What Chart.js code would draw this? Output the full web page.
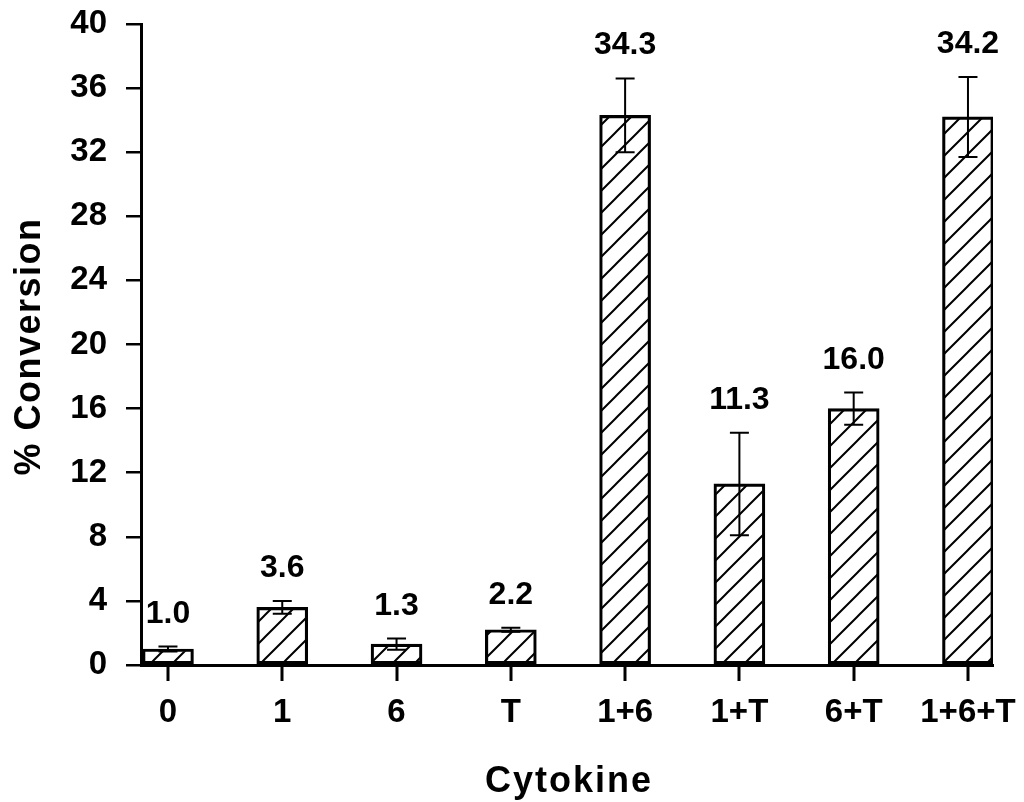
<!DOCTYPE html>
<html lang="en">
<head>
<meta charset="UTF-8">
<title>% Conversion by Cytokine</title>
<script src="https://cdn.jsdelivr.net/npm/chart.js"></script>
<style>
  html, body { margin: 0; padding: 0; background: #fff; }
  #wrap { width: 1024px; height: 802px; position: relative; }
</style>
</head>
<body>
<div id="wrap"><canvas id="cytokineChart"></canvas></div>
<script>
// Cytokine treatments, mean % conversion and error half-widths
const categories = ['0', '1', '6', 'T', '1+6', '1+T', '6+T', '1+6+T'];
const conversion = [1.0, 3.6, 1.3, 2.2, 34.3, 11.3, 16.0, 34.2];
const errorBars = [0.15, 0.4, 0.35, 0.12, 2.3, 3.2, 1.0, 2.5];
const yTicks = [0, 4, 8, 12, 16, 20, 24, 28, 32, 36, 40];

const FONT = '"Liberation Sans", Arial, Helvetica, sans-serif';
const X_MIN = -0.236, X_MAX = 7.219;

const canvas = document.getElementById('cytokineChart');

// diagonal "/" hatching used to fill the bars
function hatchPattern(ctx) {
  const s = 22;
  const tile = document.createElement('canvas');
  tile.width = s; tile.height = s;
  const g = tile.getContext('2d');
  g.strokeStyle = '#000';
  g.lineWidth = 2;
  g.beginPath();
  g.moveTo(-2, s + 2); g.lineTo(s + 2, -2);
  g.moveTo(-2, 2); g.lineTo(2, -2);
  g.moveTo(s - 2, s + 2); g.lineTo(s + 2, s - 2);
  g.stroke();
  return ctx.createPattern(tile, 'repeat');
}

// error bars, value labels, category tick marks and the two axis titles
const barNotes = {
  id: 'barNotes',
  afterDatasetsDraw(chart) {
    const { ctx, scales: { x, y } } = chart;
    ctx.save();
    ctx.strokeStyle = '#000';
    ctx.fillStyle = '#000';
    ctx.lineWidth = 2;
    ctx.font = 'bold 32px ' + FONT;
    ctx.textAlign = 'center';
    ctx.textBaseline = 'alphabetic';
    conversion.forEach((v, i) => {
      const px = x.getPixelForValue(i);
      const top = y.getPixelForValue(v + errorBars[i]);
      const bot = y.getPixelForValue(v - errorBars[i]);
      ctx.beginPath();
      ctx.moveTo(px, top); ctx.lineTo(px, bot);
      ctx.moveTo(px - 9.5, top); ctx.lineTo(px + 9.5, top);
      ctx.moveTo(px - 9.5, bot); ctx.lineTo(px + 9.5, bot);
      ctx.stroke();
      ctx.fillText(v.toFixed(1), px, top - 24);
    });
    ctx.restore();
  },
  afterDraw(chart) {
    const { ctx, chartArea, scales: { x } } = chart;
    ctx.save();
    // short ticks hanging under the x axis at each category
    ctx.strokeStyle = '#000';
    ctx.lineWidth = 3;
    for (let i = 0; i < categories.length; i++) {
      const px = Math.round(x.getPixelForValue(i));
      ctx.beginPath();
      ctx.moveTo(px, chartArea.bottom);
      ctx.lineTo(px, chartArea.bottom + 16);
      ctx.stroke();
    }
    ctx.fillStyle = '#000';
    ctx.font = 'bold 36px ' + FONT;
    ctx.textAlign = 'center';
    ctx.textBaseline = 'alphabetic';
    ctx.letterSpacing = '2px';
    ctx.fillText('Cytokine', (chartArea.left + chartArea.right) / 2 + 2, 792);
    ctx.letterSpacing = '1.5px';
    ctx.translate(40, (chartArea.top + chartArea.bottom) / 2 + 2);
    ctx.rotate(-Math.PI / 2);
    ctx.fillText('% Conversion', 0, 0);
    ctx.restore();
  }
};

const tickFont = { family: FONT, size: 33, weight: 'bold' };

new Chart(canvas, {
  type: 'bar',
  data: {
    datasets: [{
      data: conversion.map((v, i) => ({ x: i, y: v })),
      backgroundColor: hatchPattern(canvas.getContext('2d')),
      borderColor: '#000',
      borderWidth: 2.5,
      borderSkipped: false,
      barThickness: 51
    }]
  },
  options: {
    responsive: true,
    maintainAspectRatio: false,
    animation: false,
    layout: { padding: { left: 0, top: 24, right: 31, bottom: 0 } },
    plugins: {
      legend: { display: false },
      tooltip: { enabled: false }
    },
    scales: {
      x: {
        type: 'linear',
        offset: false,
        min: X_MIN,
        max: X_MAX,
        afterBuildTicks: s => { s.ticks = categories.map((_, i) => ({ value: i })); },
        afterFit: s => { s.height = 137; s.paddingLeft = 0; s.paddingRight = 0; },
        ticks: {
          callback: v => categories[v],
          // taller line box pushes the labels down under the tick marks
          font: { ...tickFont, lineHeight: 1.8 },
          color: '#000',
          padding: 10,
          maxRotation: 0,
          autoSkip: false
        },
        grid: { display: false },
        border: { display: true, color: '#000', width: 3 }
      },
      y: {
        min: 0,
        max: 40,
        afterBuildTicks: s => { s.ticks = yTicks.map(v => ({ value: v })); },
        afterFit: s => { s.width = 141; s.paddingTop = 0; s.paddingBottom = 0; },
        ticks: { font: tickFont, color: '#000', padding: 19 },
        grid: { drawOnChartArea: false, tickLength: 15, color: '#000', lineWidth: 2.5 },
        border: { color: '#000', width: 3 }
      }
    }
  },
  plugins: [barNotes]
});
</script>
</body>
</html>
